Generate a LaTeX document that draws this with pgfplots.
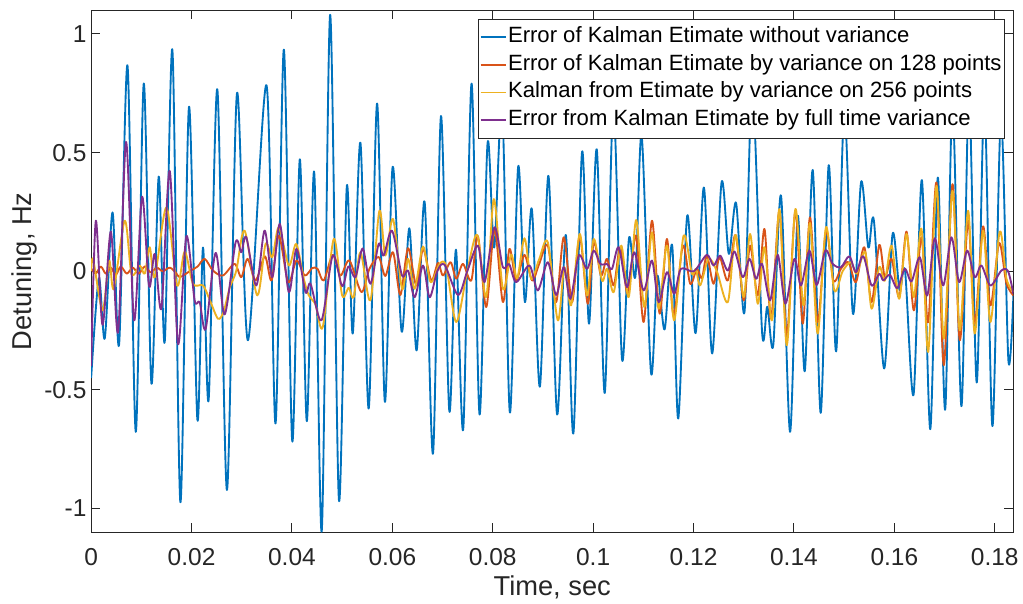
\documentclass[border=0pt]{standalone}
\usepackage{fontspec}
\setmainfont{Liberation Sans}
\usepackage{pgfplots}
\pgfplotsset{compat=1.18}
\usetikzlibrary{calc}
\definecolor{axisgray}{gray}{0.15}
\definecolor{mblue}{rgb}{0,0.447,0.741}
\definecolor{morange}{rgb}{0.85,0.325,0.098}
\definecolor{myellow}{rgb}{0.929,0.694,0.125}
\definecolor{mpurple}{rgb}{0.494,0.184,0.556}
\begin{document}
\begin{tikzpicture}
\begin{axis}[
  scale only axis, width=693pt, height=392.25pt,
  xmin=0, xmax=0.1837, ymin=-1.1, ymax=1.1,
  xtick={0,0.02,0.04,0.06,0.08,0.1,0.12,0.14,0.16,0.18},
  xticklabels={0,0.02,0.04,0.06,0.08,0.1,0.12,0.14,0.16,0.18},
  ytick={-1,-0.5,0,0.5,1},
  yticklabels={-1,-0.5,0,0.5,1},
  tick align=inside, major tick length=6.9pt,
  axis line style={axisgray, line width=0.7pt},
  every tick/.style={axisgray, line width=0.7pt},
  tick label style={font=\fontsize{18.4}{22}\selectfont, text=axisgray},
  xticklabel style={yshift=-8.5pt},
  xlabel={Time, sec}, ylabel={Detuning, Hz},
  label style={font=\fontsize{20.5}{24}\selectfont, text=axisgray},
  xlabel style={at={(axis description cs:0.5,-0.1065)}, anchor=center},
  ylabel style={at={(axis description cs:-0.0720,0.5)}, anchor=center},
  legend cell align=left,
  legend image code/.code={\draw[#1, line width=1.3pt] (0pt,0pt) -- (19pt,0pt);},
  legend style={at={(0.9907,0.984)}, anchor=north east, draw=axisgray, line width=0.7pt,
    fill=white, font=\fontsize{16.6}{19}\selectfont, inner xsep=1pt, inner ysep=4.75pt,
    row sep=3.25pt, nodes={inner sep=1pt, text height=11.8pt, text depth=3.8pt}},
  every axis plot/.append style={line width=1.4pt, line join=round},
]
\addplot[mblue, smooth] coordinates {
(0,-0.45) (0.00153,-0.03) (0.00272,-0.282) (0.00426,0.248) (0.00557,-0.308) (0.00724,0.867)
(0.00889,-0.677) (0.01048,0.791) (0.01201,-0.474) (0.01346,0.399) (0.01466,-0.298) (0.01619,0.931)
(0.01778,-0.974) (0.01949,0.693) (0.02116,-0.625) (0.02228,0.10) (0.02341,-0.541) (0.02514,0.766)
(0.02705,-0.922) (0.02904,0.748) (0.03123,-0.291) (0.03494,0.783) (0.03673,-0.642) (0.03839,0.934)
(0.04006,-0.716) (0.04157,0.472) (0.04296,-0.632) (0.04443,0.418) (0.04594,-1.094) (0.04761,1.081)
(0.04936,-0.964) (0.05092,0.355) (0.05211,-0.263) (0.05364,0.542) (0.05529,-0.579) (0.05696,0.707)
(0.05851,-0.55) (0.06006,0.440) (0.06185,-0.254) (0.06339,0.181) (0.06484,-0.334) (0.06643,0.292)
(0.0681,-0.768) (0.06969,0.654) (0.07134,-0.588) (0.07267,0.091) (0.07413,-0.663) (0.07578,0.791)
(0.07737,-0.604) (0.07896,0.538) (0.08029,0.10) (0.08188,0.70) (0.08341,-0.595) (0.08506,0.440)
(0.0864,-0.130) (0.08779,0.262) (0.08938,-0.487) (0.09109,0.402) (0.09282,-0.604) (0.09455,0.153)
(0.09606,-0.684) (0.09779,0.503) (0.09918,-0.221) (0.10072,0.514) (0.10231,-0.513) (0.10402,0.70)
(0.10575,-0.371) (0.10714,0.139) (0.10843,-0.02) (0.10967,0.570) (0.11152,-0.427) (0.11277,-0.02)
(0.11424,-0.245) (0.11575,0.108) (0.11695,-0.621) (0.11874,0.234) (0.12041,-0.261) (0.12206,0.353)
(0.12371,-0.347) (0.12558,0.374) (0.12703,0.073) (0.12848,0.287) (0.13015,-0.172) (0.1317,0.78)
(0.13365,-0.256) (0.13469,-0.15) (0.13588,-0.312) (0.13743,0.318) (0.13922,-0.677) (0.14075,0.234)
(0.14215,-0.422) (0.14374,0.427) (0.14533,-0.597) (0.14692,0.447) (0.14841,-0.338) (0.15004,0.68)
(0.15175,-0.179) (0.15338,0.376) (0.15482,0.10) (0.15593,0.213) (0.15796,-0.410) (0.15965,0.157)
(0.16104,-0.08) (0.16214,0.0) (0.16383,-0.520) (0.16548,0.384) (0.16715,-0.666) (0.16866,0.395)
(0.17013,-0.583) (0.17158,0.70) (0.17337,-0.569) (0.17486,0.75) (0.17641,-0.469) (0.17795,0.72)
(0.17954,-0.653) (0.18123,0.65) (0.18272,-0.376) (0.18372,-0.10)
};
\addplot[morange, smooth] coordinates {
(0,0.01) (0.00093,-0.01) (0.00193,0.02) (0.00292,-0.01) (0.00392,0.015) (0.00491,-0.015)
(0.0059,0.02) (0.0071,-0.01) (0.00829,0.015) (0.00948,-0.01) (0.01068,0.02) (0.01187,-0.005)
(0.01307,0.015) (0.01426,0.0) (0.01565,0.015) (0.01685,-0.005) (0.01764,-0.025) (0.01963,0.0)
(0.02122,0.02) (0.02261,0.052) (0.02426,0.003) (0.02625,-0.018) (0.02858,0.031) (0.02991,-0.025)
(0.03117,0.052) (0.03276,-0.039) (0.03461,0.063) (0.03594,-0.039) (0.03739,0.15) (0.03926,-0.046)
(0.04091,0.045) (0.04256,-0.018) (0.04403,0.013) (0.04509,0.01) (0.04634,-0.039) (0.04813,0.069)
(0.04966,-0.018) (0.05145,0.045) (0.05384,-0.088) (0.05543,0.01) (0.05728,0.06) (0.05861,-0.02)
(0.06014,0.08) (0.06159,-0.10) (0.06313,0.097) (0.06478,-0.06) (0.06611,0.094) (0.06776,-0.039)
(0.06909,0.035) (0.07009,-0.018) (0.0716,0.038) (0.07273,-0.032) (0.07407,0.031) (0.07572,-0.039)
(0.07705,0.147) (0.0787,-0.151) (0.08035,0.178) (0.08202,-0.13) (0.08333,0.094) (0.08467,-0.039)
(0.08632,0.069) (0.08785,-0.039) (0.08924,0.03) (0.09097,0.108) (0.09262,-0.13) (0.09415,0.143)
(0.0958,-0.13) (0.09733,0.147) (0.09893,-0.137) (0.10012,0.122) (0.10157,-0.018) (0.10277,0.052)
(0.1041,-0.06) (0.10541,0.101) (0.10688,-0.095) (0.10853,0.15) (0.11006,-0.214) (0.11172,0.213)
(0.11325,-0.179) (0.1147,0.136) (0.11603,-0.186) (0.11788,0.108) (0.11933,-0.053) (0.12067,0.01)
(0.12166,-0.03) (0.12265,0.066) (0.12398,-0.053) (0.12518,0.059) (0.12683,-0.039) (0.12836,0.153)
(0.13,-0.123) (0.13127,0.108) (0.1328,-0.102) (0.13413,0.178) (0.13544,-0.2) (0.13711,0.255)
(0.13857,-0.27) (0.14029,0.255) (0.14175,-0.221) (0.1432,0.227) (0.14473,-0.214) (0.14638,0.171)
(0.14785,-0.039) (0.14936,0.01) (0.15089,0.038) (0.15235,-0.046) (0.15402,0.101) (0.15547,-0.13)
(0.157,0.111) (0.15811,-0.025) (0.15945,0.052) (0.16098,-0.109) (0.16243,0.167) (0.16388,-0.165)
(0.16541,0.143) (0.16675,-0.214) (0.16839,0.374) (0.16985,-0.396) (0.17158,0.367) (0.17303,-0.291)
(0.1747,0.213) (0.17601,-0.221) (0.17768,0.189) (0.17914,-0.144) (0.18087,0.119) (0.18232,-0.05)
(0.18371,-0.102)
};
\addplot[myellow, smooth] coordinates {
(0,0.0) (0.0004,0.05) (0.00227,-0.165) (0.00358,0.045) (0.00451,-0.074) (0.0067,0.213)
(0.00804,-0.011) (0.00969,0.024) (0.01068,-0.01) (0.01167,0.101) (0.01267,-0.025) (0.015,0.269)
(0.0171,-0.06) (0.01864,0.083) (0.02029,-0.053) (0.02228,-0.06) (0.02361,-0.12) (0.02526,-0.2)
(0.02639,-0.17) (0.02759,-0.07) (0.02892,0.003) (0.03057,0.171) (0.03309,-0.102) (0.03475,0.115)
(0.03608,0.059) (0.03739,0.185) (0.03938,0.024) (0.04085,0.115) (0.04236,-0.032) (0.04336,-0.102)
(0.04469,-0.14) (0.04614,-0.235) (0.04833,0.136) (0.05,-0.102) (0.05131,-0.07) (0.05231,-0.109)
(0.05364,0.08) (0.05563,-0.123) (0.05742,0.255) (0.05861,0.066) (0.06014,0.22) (0.06193,-0.074)
(0.06313,0.052) (0.06444,-0.074) (0.06611,0.104) (0.06762,-0.046) (0.06941,0.031) (0.07074,0.02)
(0.07273,-0.214) (0.07492,0.0) (0.07691,0.153) (0.0787,-0.109) (0.08023,0.304) (0.08202,-0.074)
(0.08367,0.07) (0.08487,-0.03) (0.08632,0.139) (0.08765,-0.032) (0.08924,0.05) (0.09097,0.122)
(0.09296,-0.207) (0.09427,0.017) (0.09561,-0.144) (0.09733,0.157) (0.09879,-0.102) (0.10012,0.136)
(0.10177,-0.039) (0.10277,0.01) (0.1041,-0.088) (0.10561,0.108) (0.10708,-0.109) (0.10859,0.216)
(0.11018,-0.151) (0.11172,0.164) (0.11305,-0.158) (0.1147,0.108) (0.11615,-0.207) (0.11802,0.15)
(0.11967,-0.011) (0.12047,0.01) (0.12132,-0.06) (0.12299,0.052) (0.12464,0.0) (0.12683,-0.13)
(0.12836,0.153) (0.13,-0.109) (0.13127,0.157) (0.1328,-0.137) (0.13413,0.101) (0.13564,-0.207)
(0.13711,0.262) (0.13857,-0.312) (0.14029,0.262) (0.14189,-0.144) (0.1432,0.203) (0.14473,-0.263)
(0.14638,0.185) (0.14805,-0.081) (0.1497,0.0) (0.15135,0.038) (0.15249,-0.01) (0.15422,0.08)
(0.15547,-0.158) (0.157,0.017) (0.15811,-0.04) (0.15945,0.108) (0.16098,-0.116) (0.16243,0.157)
(0.16388,-0.109) (0.16541,0.178) (0.16675,-0.34) (0.16839,0.36) (0.16985,-0.284) (0.17158,0.339)
(0.17303,-0.249) (0.1747,0.255) (0.17601,-0.263) (0.17768,0.171) (0.17914,-0.214) (0.18099,0.167)
(0.18232,-0.03) (0.18371,-0.088)
};
\addplot[mpurple, smooth] coordinates {
(0,-0.40) (0.00093,0.213) (0.00227,-0.226) (0.00392,0.167) (0.00537,-0.256) (0.00696,0.545)
(0.00855,-0.207) (0.01014,0.314) (0.01154,-0.063) (0.01267,0.073) (0.014,-0.155) (0.01565,0.423)
(0.0173,-0.306) (0.01897,0.147) (0.02062,-0.123) (0.02162,-0.13) (0.02281,-0.243) (0.0248,0.077)
(0.02659,-0.182) (0.02878,0.122) (0.02991,0.08) (0.03091,0.143) (0.0329,-0.06) (0.03455,0.171)
(0.03608,-0.025) (0.03759,0.199) (0.03938,-0.088) (0.04091,0.094) (0.0427,-0.088) (0.0437,-0.053)
(0.04588,-0.207) (0.04813,0.066) (0.05,-0.063) (0.05125,0.02) (0.05265,-0.025) (0.0541,0.096)
(0.05563,-0.053) (0.05728,0.115) (0.05827,0.066) (0.05994,0.171) (0.06193,-0.018) (0.06313,0.003)
(0.06444,-0.11) (0.06611,0.024) (0.06742,-0.11) (0.06895,0.0) (0.07041,0.027) (0.07307,-0.10)
(0.07492,0.0) (0.07705,0.108) (0.07836,-0.046) (0.08035,0.185) (0.08202,0.017) (0.08327,0.03)
(0.08467,-0.046) (0.08731,0.024) (0.08898,-0.081) (0.09097,0.038) (0.09262,-0.10) (0.09415,0.017)
(0.09547,-0.116) (0.09714,0.066) (0.09879,0.01) (0.10012,0.087) (0.10143,0.031) (0.10277,0.03)
(0.10376,0.01) (0.10509,0.101) (0.10674,-0.067) (0.10819,0.080) (0.11006,-0.081) (0.11172,0.045)
(0.11305,-0.13) (0.1147,-0.004) (0.11615,-0.095) (0.11748,0.01) (0.12007,0.0) (0.12265,0.069)
(0.12398,0.024) (0.1253,0.066) (0.12683,0.003) (0.12816,0.083) (0.12981,-0.025) (0.13115,0.052)
(0.13246,-0.032) (0.13365,0.031) (0.13524,-0.123) (0.13677,0.069) (0.1383,-0.137) (0.1401,0.052)
(0.14141,-0.06) (0.14308,0.087) (0.14453,-0.058) (0.14626,0.087) (0.14771,0.031) (0.14936,0.017)
(0.15103,0.063) (0.15235,-0.004) (0.15382,0.063) (0.15547,-0.06) (0.157,-0.011) (0.1578,-0.039)
(0.15911,-0.015) (0.16058,-0.071) (0.16209,0.01) (0.16342,-0.043) (0.16508,0.059) (0.16655,-0.102)
(0.16806,0.139) (0.16973,-0.06) (0.17138,0.143) (0.17291,-0.046) (0.1745,0.087) (0.17601,-0.025)
(0.17735,0.024) (0.17914,-0.06) (0.18133,0.003) (0.18266,0.0) (0.18371,-0.095)
};
\legend{Error of Kalman Etimate without variance,
Error of Kalman Etimate by variance on 128 points,
Kalman from Etimate by variance on 256 points,
Error from Kalman Etimate by full time variance}
\end{axis}
\path ($(current axis.south west)+(-68.5pt,-53pt)$) rectangle ($(current axis.north east)+(6pt,7.7pt)$);
\end{tikzpicture}
\end{document}
